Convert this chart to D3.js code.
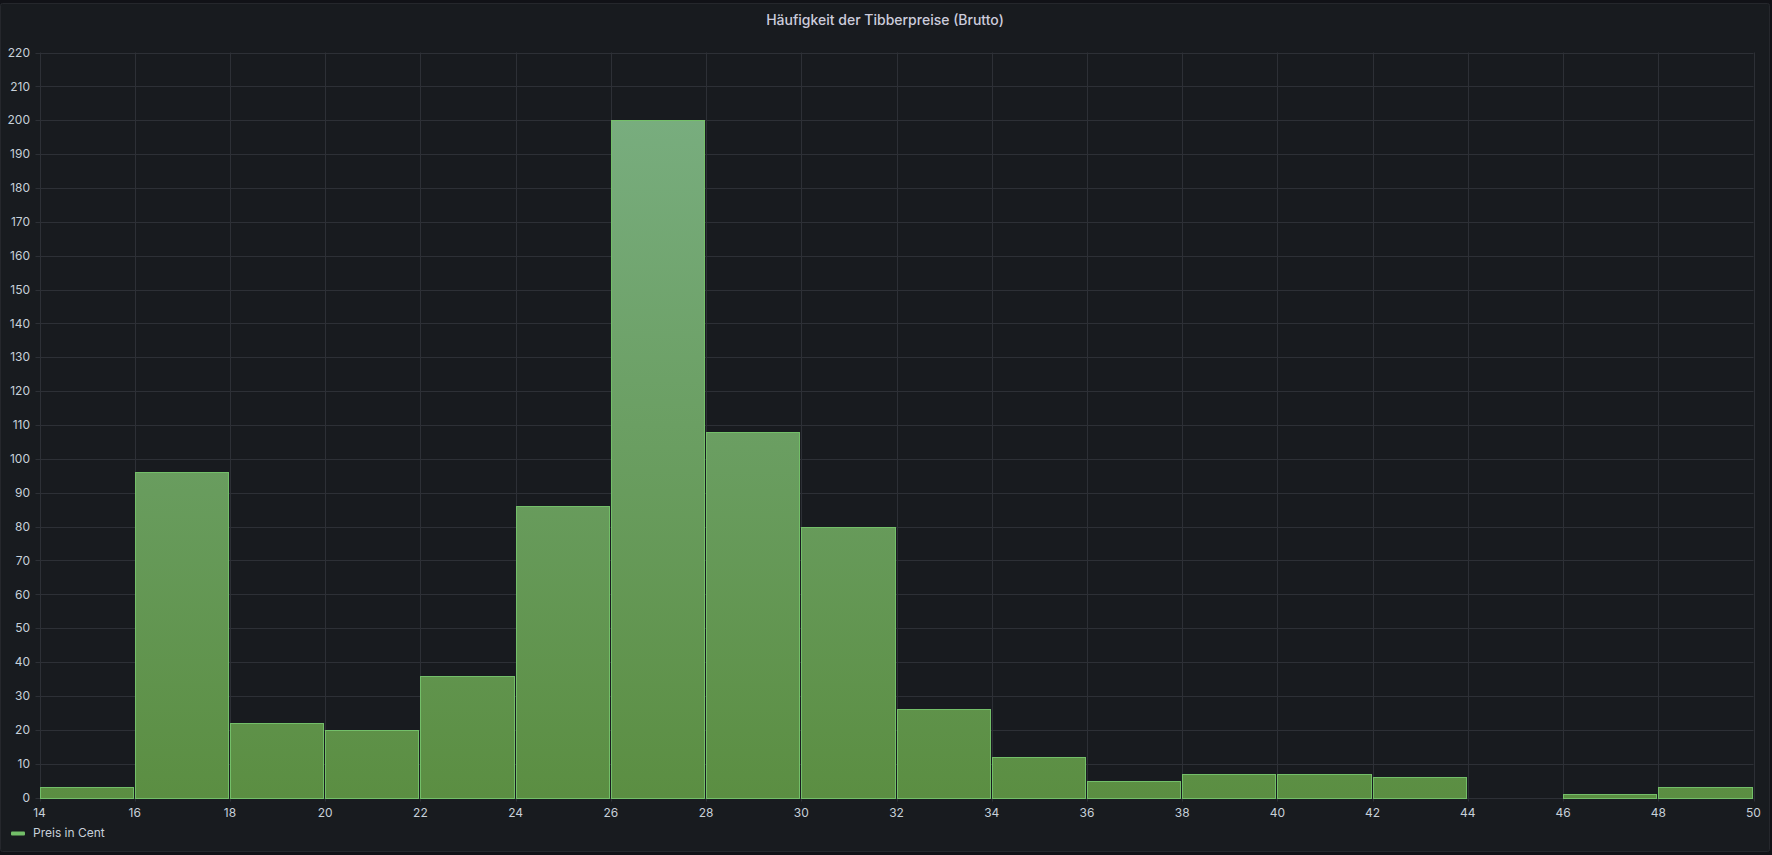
<!DOCTYPE html>
<html>
<head>
<meta charset="utf-8">
<script src="https://cdn.jsdelivr.net/npm/d3@7"></script>
<style>
  html, body { margin: 0; padding: 0; background: #111217; }
  svg { display: block; }
  text { font-family: Inter, "Open Sans", sans-serif; }
</style>
</head>
<body>
<svg id="chart" width="1772" height="855"></svg>
<script>
// Data: histogram bins (Preis in Cent), width 2
const binStarts = [14, 16, 18, 20, 22, 24, 26, 28, 30, 32, 34, 36, 38, 40, 42, 44, 46, 48];
const binWidth = 2;
const counts = [3, 96, 22, 20, 36, 86, 200, 108, 80, 26, 12, 5, 7, 7, 6, 0, 1, 3];
const xTicks = [14, 16, 18, 20, 22, 24, 26, 28, 30, 32, 34, 36, 38, 40, 42, 44, 46, 48, 50];
const yTicks = [0, 10, 20, 30, 40, 50, 60, 70, 80, 90, 100, 110, 120, 130, 140, 150, 160, 170, 180, 190, 200, 210, 220];
const title = "Häufigkeit der Tibberpreise (Brutto)";
const seriesName = "Preis in Cent";

const svg = d3.select("#chart");

// Panel
svg.append("rect").attr("x", 0.5).attr("y", 3.5).attr("width", 1769).attr("height", 848)
  .attr("rx", 2).attr("fill", "#181b1f").attr("stroke", "#25272c");

const m = { left: 39.5, right: 1753.5, top: 52.5, bottom: 797.5 };
const x = d3.scaleLinear().domain([14, 50]).range([m.left, m.right]);
const y = d3.scaleLinear().domain([0, 220]).range([m.bottom, m.top]);

// Gradient
const defs = svg.append("defs");
const grad = defs.append("linearGradient").attr("id", "g")
  .attr("gradientUnits", "userSpaceOnUse")
  .attr("x1", 0).attr("x2", 0).attr("y1", y(220)).attr("y2", y(0));
grad.append("stop").attr("offset", "0%").attr("stop-color", "#7bb084");
grad.append("stop").attr("offset", "100%").attr("stop-color", "#5b8e42");

// Title
svg.append("text").attr("x", 885).attr("y", 25).attr("text-anchor", "middle")
  .attr("fill", "#ccccdc").attr("font-size", 14).attr("font-weight", 500).text(title);

// Grid
const gridColor = "#2d3036";
svg.append("g").selectAll("line").data(yTicks).join("line")
  .attr("x1", m.left - 4).attr("x2", m.right)
  .attr("y1", d => Math.round(y(d)) + 0.5).attr("y2", d => Math.round(y(d)) + 0.5)
  .attr("stroke", gridColor).attr("stroke-width", 1);
svg.append("g").selectAll("line").data(xTicks).join("line")
  .attr("y1", m.top).attr("y2", m.bottom + 4)
  .attr("x1", d => Math.round(x(d)) + 0.5).attr("x2", d => Math.round(x(d)) + 0.5)
  .attr("stroke", gridColor).attr("stroke-width", 1);

// Bars (snapped to pixel grid so 1px stroke is crisp)
const bins = binStarts.map((s, i) => ({ x0: s, x1: s + binWidth, c: counts[i] })).filter(d => d.c > 0);
const px = v => Math.round(v) + 0.5;
svg.append("g").selectAll("rect").data(bins).join("rect")
  .attr("x", d => px(x(d.x0)))
  .attr("width", d => px(x(d.x1)) - px(x(d.x0)) - 2)
  .attr("y", d => px(y(d.c)))
  .attr("height", d => px(y(0)) - px(y(d.c)))
  .attr("fill", "url(#g)")
  .attr("stroke", "#73bf69").attr("stroke-width", 1)
  .attr("shape-rendering", "crispEdges");

// Axis labels
const tickColor = "#c7d0d9";
svg.append("g").selectAll("text").data(yTicks).join("text")
  .attr("x", 30).attr("y", d => y(d)).attr("dy", "0.35em")
  .attr("text-anchor", "end").attr("fill", tickColor).attr("font-size", 12)
  .text(d => d);
svg.append("g").selectAll("text").data(xTicks).join("text")
  .attr("x", d => x(d)).attr("y", 817)
  .attr("text-anchor", "middle").attr("fill", tickColor).attr("font-size", 12)
  .text(d => d);

// Legend
svg.append("rect").attr("x", 11).attr("y", 831.5).attr("width", 14).attr("height", 4)
  .attr("rx", 1).attr("fill", "#73bf69");
svg.append("text").attr("x", 33).attr("y", 837).attr("fill", tickColor)
  .attr("font-size", 12).text(seriesName);
</script>
</body>
</html>
